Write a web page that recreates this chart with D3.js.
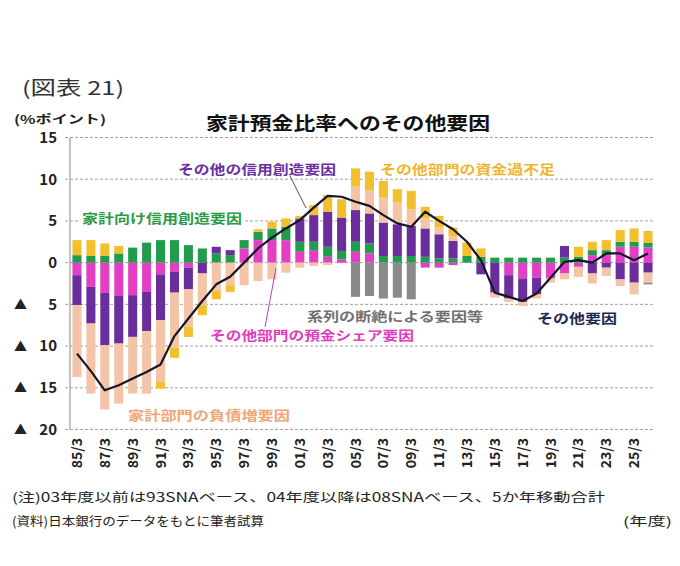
<!DOCTYPE html>
<html><head><meta charset="utf-8">
<script src="https://cdn.jsdelivr.net/npm/d3@7"></script>
<style>
html,body{margin:0;padding:0;background:#fff;}
text{font-family:"Noto Sans CJK JP","Noto Sans",sans-serif;}
</style></head>
<body><svg id="c" width="680" height="566"></svg>
<script>
// ---- data ----
const years = ["85/3","86/3","87/3","88/3","89/3","90/3","91/3","92/3","93/3","94/3","95/3","96/3","97/3","98/3","99/3","00/3","01/3","02/3","03/3","04/3","05/3","06/3","07/3","08/3","09/3","10/3","11/3","12/3","13/3","14/3","15/3","16/3","17/3","18/3","19/3","20/3","21/3","22/3","23/3","24/3","25/3","26/3"];
// その他部門の預金シェア要因
const depositShare = [-1.5,-2.9,-3.6,-4.0,-3.9,-3.5,-1.4,-1.1,-0.6,0,0,0,1.7,2.7,2.7,2.7,1.3,1.5,0.7,0.4,1.3,1.1,0,0,0,-0.6,-0.6,-0.3,0,0,0,-1.5,-1.9,-1.8,-1.9,-1.3,-0.5,0.9,0.9,1.9,1.9,1.8];
// 家計向け信用創造要因
const householdCredit = [0.9,0.8,0.8,1.1,1.8,2.4,2.7,2.7,2.1,1.7,1.1,0.9,1.0,1.0,1.4,1.6,1.2,1.0,1.2,1.0,1.2,1.2,0.8,0.8,0.8,0.7,0.5,0.5,0.8,0.7,0.6,0.6,0.6,0.6,0.6,0.6,0.7,0.6,0.6,0.6,0.6,0.6];
// その他の信用創造要因
const otherCredit = [-3.6,-4.4,-6.3,-5.7,-5.0,-4.7,-5.5,-2.5,-2.6,-1.3,0.8,0.6,0,0,0,0,2.8,3.2,4.2,4.0,3.8,3.6,4.0,3.8,3.6,3.4,2.9,2.1,0,-1.4,-3.6,-2.8,-2.8,-2.0,0,1.4,0,-1.3,-0.6,-2.0,-2.4,-1.2];
// 家計部門の負債増要因
const householdDebt = [-8.6,-8.4,-7.7,-7.2,-6.8,-7.5,-7.4,-6.6,-4.5,-3.8,-3.4,-2.7,-2.7,-2.2,-2.0,-1.2,-0.6,-0.4,-0.3,0,2.8,2.8,3.0,2.6,2.0,1.2,0.8,0.6,0,0,-0.6,-0.4,-0.5,-0.5,-0.5,-0.7,-1.2,-1.2,-1.0,-0.8,-1.4,-1.2];
// その他部門の資金過不足
const otherSurplus = [1.8,1.9,1.5,0.9,0,0,-0.8,-1.2,-1.2,-1.2,-1.0,-0.8,0,0.3,0.8,1.0,0.3,1.2,2.0,2.2,2.2,2.2,2.0,1.6,2.2,1.4,1.4,1.0,1.6,1.0,0,0,0,0,0,0,1.2,1.0,1.2,1.4,1.6,1.4];
// 系列の断絶による要因等
const seriesBreak = [0,0,0,0,0,0,0,0,0,0,0,0,0,0,0,0,0,0,0,0,-4.1,-4.0,-4.3,-4.2,-4.4,0,0,0,0,0,0,0,0,0,0,0,0,0,0,0,0,-0.2];
// その他要因 (line)
const otherFactors = [-10.9,-13.0,-15.3,-14.7,-13.9,-13.1,-12.2,-8.8,-6.7,-4.6,-2.6,-1.7,0.0,1.7,3.0,4.1,5.1,6.6,8.0,7.9,7.3,6.8,5.7,4.7,4.3,6.1,5.0,4.0,2.5,0.3,-3.6,-4.1,-4.6,-3.7,-1.8,0.1,0.3,0.0,1.1,1.1,0.3,1.1];
const yTicks = [15,10,5,0,-5,-10,-15,-20];

const seriesKeys = ["depositShare","householdCredit","otherCredit","householdDebt","otherSurplus","seriesBreak"];
const seriesData = {depositShare,householdCredit,otherCredit,householdDebt,otherSurplus,seriesBreak};
const colors = {depositShare:"#e23fc4",householdCredit:"#239b4c",otherCredit:"#6a2d9c",householdDebt:"#f3c4a7",otherSurplus:"#f1c02c",seriesBreak:"#8a8a8a"};

const rows = years.map((y,i)=>{const r={year:y}; seriesKeys.forEach(k=>r[k]=seriesData[k][i]); return r;});

const svg = d3.select("#c");
const x = d3.scaleBand().domain(years).range([70,655]).paddingInner(0.35).paddingOuter(0.175);
const y = d3.scaleLinear().domain([-20,15]).range([429.5,137.5]);

// gridlines
svg.append("g").selectAll("line").data(yTicks).join("line")
  .attr("x1",65).attr("x2",655).attr("y1",d=>y(d)).attr("y2",d=>y(d))
  .attr("stroke","#a0a0a0").attr("stroke-width",1).attr("stroke-dasharray","3,2");
// y axis line
svg.append("line").attr("x1",70).attr("x2",70).attr("y1",y(15)).attr("y2",y(-20)).attr("stroke","#9a9a9a").attr("stroke-width",1.2);

// y tick labels
const yl = svg.append("g");
yTicks.forEach(t=>{
  yl.append("text").attr("x",57).attr("y",y(t)).attr("dy","0.36em").attr("text-anchor","end")
    .attr("font-size",15).attr("font-weight","bold").attr("fill","#222").text(Math.abs(t));
  if(t<0) yl.append("text").attr("x",14).attr("y",y(t)).attr("dy","0.36em")
    .attr("font-size",13).attr("fill","#222").text("▲");
});

// stacked bars
const stack = d3.stack().keys(seriesKeys).offset(d3.stackOffsetDiverging);
const stacked = stack(rows);
svg.append("g").selectAll("g").data(stacked).join("g").attr("fill",d=>colors[d.key])
  .selectAll("rect").data(d=>d).join("rect")
  .attr("x",d=>x(d.data.year)).attr("width",x.bandwidth())
  .attr("y",d=>y(Math.max(d[0],d[1]))).attr("height",d=>Math.abs(y(d[0])-y(d[1])));

// line
const line = d3.line().x((d,i)=>x(years[i])+x.bandwidth()/2).y(d=>y(d));
svg.append("path").datum(otherFactors).attr("d",line).attr("fill","none")
  .attr("stroke","#15152a").attr("stroke-width",2.2).attr("stroke-linejoin","round");

// x labels
svg.append("g").selectAll("text").data(years.filter((d,i)=>i%2===0)).join("text")
  .attr("transform",d=>`translate(${x(d)+x.bandwidth()/2},438) rotate(-90)`)
  .attr("text-anchor","end").attr("dy","0.36em").attr("font-size",14).attr("font-weight","bold").attr("fill","#222").text(d=>d);

// helper for stretched text
function txt(s,x0,w,cy,size,color,weight){
  return svg.append("text").attr("x",x0).attr("y",cy).attr("dy","0.36em").attr("font-size",size)
    .attr("fill",color).attr("font-weight",weight||"normal")
    .attr("textLength",w).attr("lengthAdjust","spacingAndGlyphs").text(s);
}

// leader lines
svg.append("line").attr("x1",290).attr("y1",176).attr("x2",306).attr("y2",208).attr("stroke","#555").attr("stroke-width",1);
svg.append("line").attr("x1",265).attr("y1",327).attr("x2",276).attr("y2",268).attr("stroke","#c040a8").attr("stroke-width",1);

// white box behind green label
svg.append("rect").attr("x",80).attr("y",210).attr("width",164).attr("height",17).attr("fill","#fff");

txt("(図表 21)",22,102,88,19,"#333","normal");
txt("(%ポイント)",14,92,120,12,"#222","bold");
txt("家計預金比率へのその他要因",206,284,124,18,"#111","bold");
txt("その他の信用創造要因",178,158,169,13,"#6b2fa0","bold");
txt("その他部門の資金過不足",380,175,169,13,"#efb52a","bold");
txt("家計向け信用創造要因",82,160,218,13,"#2a9a48","bold");
txt("系列の断絶による要因等",307,176,316,13,"#707070","bold");
txt("その他要因",537,80,318,13,"#1e2a50","bold");
txt("その他部門の預金シェア要因",210,204,335,13,"#e03cbc","bold");
txt("家計部門の負債増要因",128,162,415,13,"#f0a678","bold");
txt("(注)03年度以前は93SNAベース、04年度以降は08SNAベース、5か年移動合計",12,593,497,12.5,"#222","normal");
txt("(資料)日本銀行のデータをもとに筆者試算",12,252,521,12.5,"#222","normal");
txt("(年度)",623,49,521,12.5,"#222","normal");
</script></body></html>
